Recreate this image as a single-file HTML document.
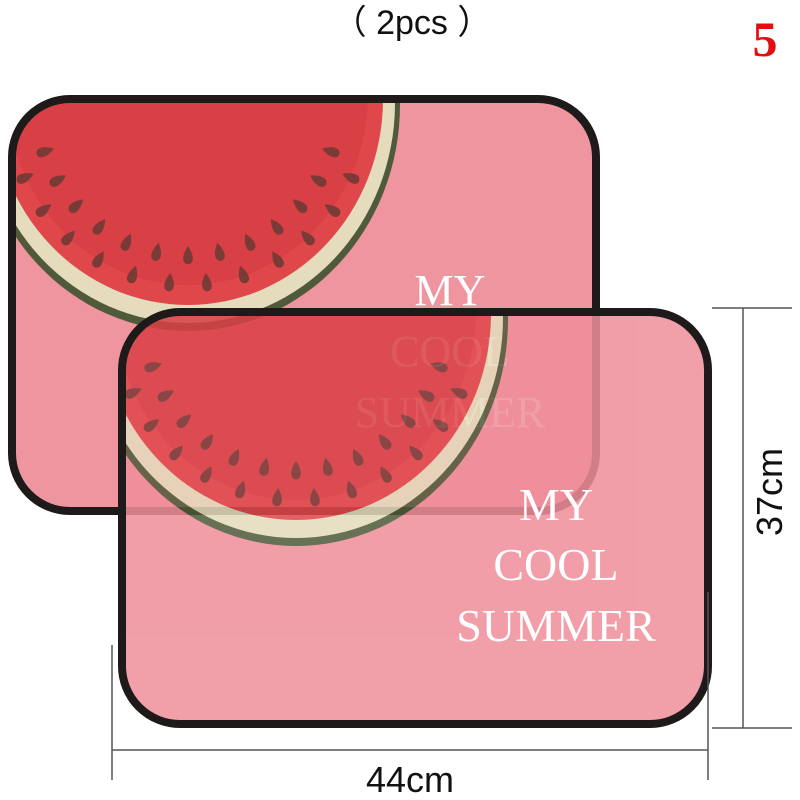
<!DOCTYPE html>
<html><head><meta charset="utf-8"><style>
html,body{margin:0;padding:0;background:#fff;width:800px;height:800px;overflow:hidden}
</style></head><body>
<svg width="800" height="800" viewBox="0 0 800 800" xmlns="http://www.w3.org/2000/svg">
<defs>
<path id="seed" d="M0,-9 C4,-3 6,3 4,7 C2,10 -2,10 -4,7 C-6,3 -4,-3 0,-9Z" fill="#7a3a36"/>
<g id="melon">
  <ellipse cx="0" cy="0" rx="212" ry="226" fill="#4f5a3a"/>
  <ellipse cx="0" cy="-2" rx="207" ry="220" fill="#e4dcbc"/>
  <ellipse cx="0" cy="-6" rx="195" ry="206" fill="#e0474b"/>
  <ellipse cx="0" cy="-10" rx="180" ry="190" fill="#d94045"/>
  <g>
    <use href="#seed" transform="rotate(-72) translate(0,150)"/>
    <use href="#seed" transform="rotate(-60) translate(0,150)"/>
    <use href="#seed" transform="rotate(-48) translate(0,150)"/>
    <use href="#seed" transform="rotate(-36) translate(0,150)"/>
    <use href="#seed" transform="rotate(-24) translate(0,150)"/>
    <use href="#seed" transform="rotate(-12) translate(0,150)"/>
    <use href="#seed" transform="rotate(0) translate(0,150)"/>
    <use href="#seed" transform="rotate(12) translate(0,150)"/>
    <use href="#seed" transform="rotate(24) translate(0,150)"/>
    <use href="#seed" transform="rotate(36) translate(0,150)"/>
    <use href="#seed" transform="rotate(48) translate(0,150)"/>
    <use href="#seed" transform="rotate(60) translate(0,150)"/>
    <use href="#seed" transform="rotate(72) translate(0,150)"/>
    <use href="#seed" transform="rotate(-66) translate(0,178)"/>
    <use href="#seed" transform="rotate(-54) translate(0,178)"/>
    <use href="#seed" transform="rotate(-42) translate(0,178)"/>
    <use href="#seed" transform="rotate(-30) translate(0,178)"/>
    <use href="#seed" transform="rotate(-18) translate(0,178)"/>
    <use href="#seed" transform="rotate(-6) translate(0,178)"/>
    <use href="#seed" transform="rotate(6) translate(0,178)"/>
    <use href="#seed" transform="rotate(18) translate(0,178)"/>
    <use href="#seed" transform="rotate(30) translate(0,178)"/>
    <use href="#seed" transform="rotate(42) translate(0,178)"/>
    <use href="#seed" transform="rotate(54) translate(0,178)"/>
    <use href="#seed" transform="rotate(66) translate(0,178)"/>
  </g>
</g>
<clipPath id="cb"><rect x="12" y="99" width="584" height="412" rx="58"/></clipPath>
<clipPath id="cf"><rect x="122" y="312" width="586" height="412" rx="58"/></clipPath>
</defs>

<rect x="12" y="99" width="584" height="412" rx="58" fill="#ef95a0"/>
<g clip-path="url(#cb)"><use href="#melon" transform="translate(188,105)"/></g>
<g font-family="Liberation Serif, serif" font-size="44" fill="#fff" text-anchor="middle">
<text x="450" y="305">MY</text>
<text x="450" y="366">COOL</text>
<text x="450" y="427">SUMMER</text>
</g>
<rect x="12" y="99" width="584" height="412" rx="58" fill="none" stroke="#1e1a1a" stroke-width="8"/>

<g opacity="0.86">
<rect x="122" y="312" width="586" height="412" rx="58" fill="#ef8f9b"/>
<g clip-path="url(#cf)"><use href="#melon" transform="translate(296,320)"/></g>
</g>
<g font-family="Liberation Serif, serif" font-size="46" fill="#fff" text-anchor="middle">
<text x="556" y="520">MY</text>
<text x="556" y="580">COOL</text>
<text x="556" y="641">SUMMER</text>
</g>
<rect x="122" y="312" width="586" height="412" rx="58" fill="none" stroke="#1e1a1a" stroke-width="8"/>

<g stroke="#555" stroke-width="1.5" fill="none">
<line x1="712" y1="308" x2="792" y2="308"/>
<line x1="712" y1="728" x2="792" y2="728"/>
<line x1="743" y1="308" x2="743" y2="728"/>
<line x1="112" y1="645" x2="112" y2="780"/>
<line x1="708" y1="592" x2="708" y2="780"/>
<line x1="112" y1="750" x2="708" y2="750"/>
</g>
<text x="0" y="0" transform="translate(782,492) rotate(-90)" font-family="Liberation Sans, sans-serif" font-size="36" fill="#111" text-anchor="middle">37cm</text>
<text x="410" y="792" font-family="Liberation Sans, sans-serif" font-size="36" fill="#111" text-anchor="middle">44cm</text>
<text x="412" y="34" font-family="Liberation Sans, 'Noto Sans CJK SC', sans-serif" font-size="34" fill="#111" text-anchor="middle">（ 2pcs ）</text>
<text x="765" y="56" font-family="Liberation Serif, serif" font-weight="bold" font-size="50" fill="#e01010" text-anchor="middle">5</text>
</svg>
</body></html>
